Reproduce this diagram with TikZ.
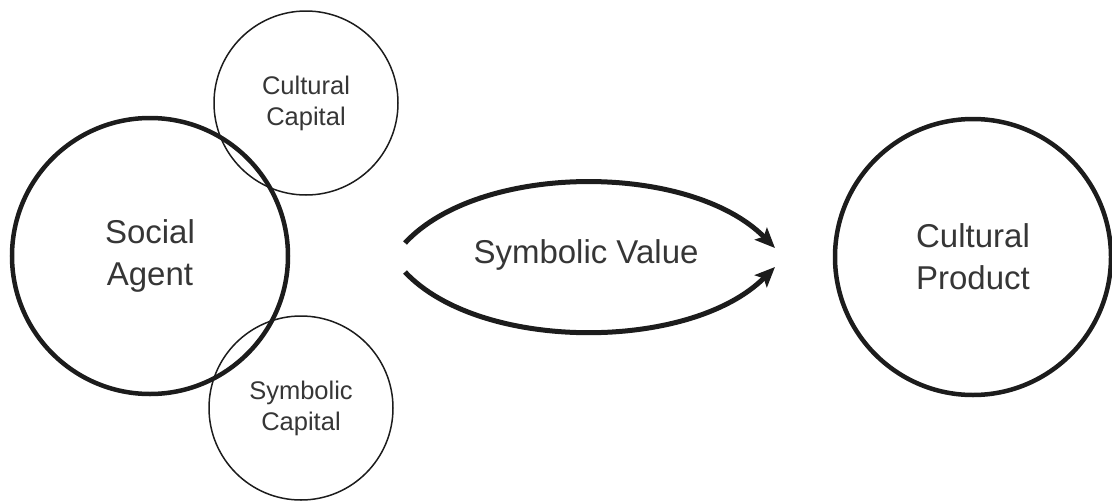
\documentclass[tikz,border=0pt]{standalone}
\usepackage{fontspec}
\setmainfont{Liberation Sans}
\usetikzlibrary{arrows.meta}
\definecolor{ink}{HTML}{1C1C1C}
\definecolor{txt}{HTML}{363636}

\begin{document}
\begin{tikzpicture}[x=1pt,y=-1pt,
		big/.style={circle,draw=ink,line width=4.5pt,minimum size=276pt,inner sep=0pt,text=txt,align=center,font=\fontsize{33}{42}\selectfont},
		small/.style={circle,draw=ink,line width=1.5pt,minimum size=184pt,inner sep=0pt,text=txt,align=center,font=\fontsize{25.5}{31}\selectfont},
		flow/.style={draw=ink,line width=5pt,-{Stealth[length=20pt,width=17pt,inset=4pt]}}]
		\useasboundingbox (0,0) rectangle (1112,501);
		% Knoten
		\node (CC) at (306,103) [small] {Cultural\\Capital};
		\node (SC) at (301,408) [small] {Symbolic\\Capital};
		\node (SA) at (150,256) [big] {Social\\Agent};
		\node (CP) at (973,257) [big] {Cultural\\Product};
		\node (SV) at (586,255) [text=txt,font=\fontsize{33}{40}\selectfont] {Symbolic Value};
		\coordinate (s1) at (405,243);
		\coordinate (e1) at (775,248);
		\coordinate (s2) at (405,272);
		\coordinate (e2) at (775,267);

		% Kanten
		\draw[flow] (s1) .. controls (480,162) and (690,162) .. (e1);
		\draw[flow] (s2) .. controls (480,352) and (690,352) .. (e2);
	\end{tikzpicture}
\end{document}
